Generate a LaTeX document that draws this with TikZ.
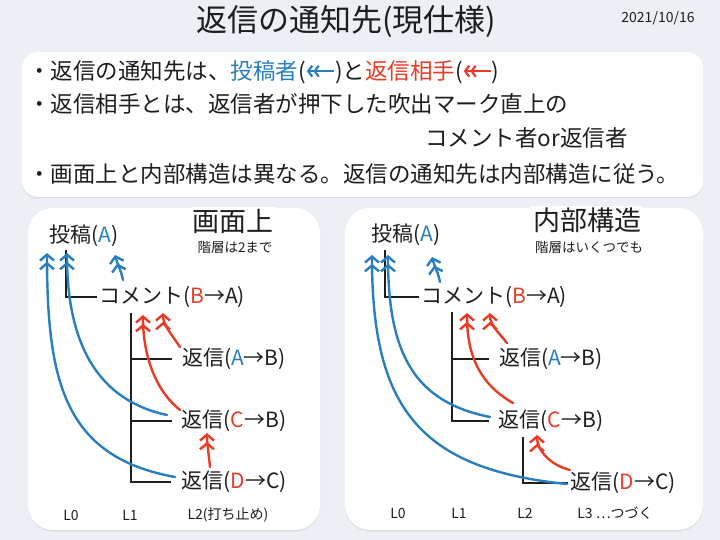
\documentclass[tikz,border=0pt]{standalone}
\usepackage{fontspec}
\setmainfont{Noto Sans CJK JP}
\usepackage{xcolor}
\usetikzlibrary{arrows.meta,shadows}
\definecolor{bg}{RGB}{236,239,244}
\definecolor{cblue}{RGB}{40,126,190}
\definecolor{cred}{RGB}{232,60,38}
\definecolor{ink}{RGB}{30,30,30}
\tikzstyle{panel} = [draw=none, fill=white, rounded corners=25pt, drop shadow={shadow xshift=0pt, shadow yshift=-1.5pt, opacity=0.15}]
\tikzstyle{bullet} = [anchor=west, inner sep=0pt, text=ink, font=\fontsize{22.5}{26}\selectfont]
\tikzstyle{entry} = [inner sep=0pt, text=ink, font=\fontsize{21}{24}\selectfont]
\tikzstyle{lvtext} = [inner sep=0pt, text=ink, font=\fontsize{14}{16}\selectfont]
\tikzstyle{heading} = [fill=white, inner sep=2pt, text=ink, font=\fontsize{27}{30}\selectfont]
\tikzstyle{note} = [inner sep=0pt, text=ink, font=\fontsize{13.5}{15}\selectfont]
\tikzstyle{treeline} = [draw=ink, line width=1.4pt]
\tikzstyle{hand} = [line width=2.4pt, line cap=round, -{Straight Barb[length=6pt,width=14pt] Straight Barb[length=6pt,width=14pt]}]
\tikzstyle{barrow} = [hand, draw=cblue]
\tikzstyle{rarrow} = [hand, draw=cred]
\newcommand\minarrow[1]{\tikz[baseline=-0.36em]\draw[#1, line width=2.2pt, -{Straight Barb[length=4pt,width=11pt] Straight Barb[length=4pt,width=11pt]}] (1.25em,0pt) -- (0.05em,0pt);}
\newcommand\bl[1]{\textcolor{cblue}{#1}}
\newcommand\rd[1]{\textcolor{cred}{#1}}

\begin{document}
\begin{tikzpicture}[x=1pt,y=-1pt]
\useasboundingbox (0,0) rectangle (720,540);
\fill[bg] (0,0) rectangle (720,540);

% title and date
\node (title) at (346,22) [inner sep=0pt, text=ink, font=\fontsize{31}{34}\selectfont] {返信の通知先(現仕様)};
\node (date) at (658,18) [inner sep=0pt, text=ink, font=\fontsize{14}{16}\selectfont] {2021/10/16};

% summary box
\draw[panel, rounded corners=16pt] (22,52) rectangle (703,197);
\node (line1) [bullet] at (28,72) {・返信の通知先は、\bl{投稿者}(\minarrow{cblue})と\rd{返信相手}(\minarrow{cred})};
\node (line2) [bullet] at (28,104) {・返信相手とは、返信者が押下した吹出マーク直上の};
\node (line3) [bullet] at (425,138) {コメント者or返信者};
\node (line4) [bullet] at (28,174) {・画面上と内部構造は異なる。返信の通知先は内部構造に従う。};

% panels
\draw[panel] (28,208) rectangle (320,530);
\draw[panel] (345,208) rectangle (703,530);

% left: screen view
\node (screen) [heading] at (233,221) {画面上};
\node (screenNote) [note] at (235,247) {階層は2まで};
\node (post1) [entry] at (84,236) {投稿(\bl{A})};
\node (cmt1) [entry] at (172,297) {コメント(\rd{B}→A)};
\node (repA1) [entry] at (234,359) {返信(\bl{A}→B)};
\node (repC1) [entry] at (234,421) {返信(\rd{C}→B)};
\node (repD1) [entry] at (234,482) {返信(\rd{D}→C)};
\node (lv0a) [lvtext] at (71,515) {L0};
\node (lv1a) [lvtext] at (130,515) {L1};
\node (lv2a) [lvtext] at (228,515) {L2(打ち止め)};

\draw[treeline] ([shift={(-18,14)}]post1.center) |- ([xshift=-2pt]cmt1.west);
\coordinate (spine1) at ([shift={(-41,16)}]cmt1.center);
\draw[treeline] (spine1) |- ([xshift=-10pt]repD1.west);
\draw[treeline] (spine1 |- repA1.west) -- ([xshift=-10pt]repA1.west);
\draw[treeline] (spine1 |- repC1.west) -- ([xshift=-10pt]repC1.west);

\draw[barrow] ([shift={(-59,-5)}]repD1.center) .. controls +(-110,-20) and +(0,130) .. ([shift={(-37,17)}]post1.center);
\draw[barrow] ([shift={(-67,-6)}]repC1.center) .. controls +(-70,-15) and +(0,90) .. ([shift={(-17,17)}]post1.center);
\draw[barrow] ([shift={(-49,-17)}]cmt1.center) .. controls +(-2,-10) and +(2,8) .. ([shift={(31,19)}]post1.center);
\draw[rarrow] ([shift={(-54,-12)}]repA1.center) .. controls +(-8,-12) and +(0,12) .. ([shift={(-9,16)}]cmt1.center);
\draw[rarrow] ([shift={(-54,-11)}]repC1.center) .. controls +(-25,-20) and +(0,40) .. ([shift={(-29,18)}]cmt1.center);
\draw[rarrow] ([shift={(-24,-15)}]repD1.center) .. controls +(-1,-10) and +(0,10) .. ([shift={(-27,12)}]repC1.center);

% right: internal structure
\node (inner) [heading] at (587,220) {内部構造};
\node (innerNote) [note] at (589,247) {階層はいくつでも};
\node (post2) [entry] at (406,235) {投稿(\bl{A})};
\node (cmt2) [entry] at (494,297) {コメント(\rd{B}→A)};
\node (repA2) [entry] at (551,359) {返信(\bl{A}→B)};
\node (repC2) [entry] at (551,421) {返信(\rd{C}→B)};
\node (repD2) [entry] at (623,483) {返信(\rd{D}→C)};
\node (lv0b) [lvtext] at (398,513) {L0};
\node (lv1b) [lvtext] at (459,513) {L1};
\node (lv2b) [lvtext] at (525,513) {L2};
\node (lv3b) [lvtext] at (615,513) {L3 …つづく};

\draw[treeline] ([shift={(-21,15)}]post2.center) |- ([xshift=-2pt]cmt2.west);
\coordinate (spine2) at ([shift={(-42,15)}]cmt2.center);
\draw[treeline] (spine2) |- ([xshift=-10pt]repC2.west);
\draw[treeline] (spine2 |- repA2.west) -- ([xshift=-10pt]repA2.west);
\coordinate (spine3) at ([shift={(-28,16)}]repC2.center);
\draw[treeline] (spine3) |- ([xshift=-2pt]repD2.west);

\draw[barrow] ([shift={(-56,1)}]repD2.center) .. controls +(-150,-15) and +(0,150) .. ([shift={(-34,20)}]post2.center);
\draw[barrow] ([shift={(-61,-4)}]repC2.center) .. controls +(-75,-15) and +(0,100) .. ([shift={(-18,20)}]post2.center);
\draw[barrow] ([shift={(-54,-15)}]cmt2.center) .. controls +(-2,-10) and +(2,8) .. ([shift={(26,22)}]post2.center);
\draw[rarrow] ([shift={(-44,-16)}]repA2.center) .. controls +(-8,-10) and +(0,12) .. ([shift={(-4,16)}]cmt2.center);
\draw[rarrow] ([shift={(-38,-18)}]repC2.center) .. controls +(-35,-20) and +(0,40) .. ([shift={(-27,16)}]cmt2.center);
\draw[rarrow] ([shift={(-53,-13)}]repD2.center) .. controls +(-20,-5) and +(0,15) .. ([shift={(-14,14)}]repC2.center);
\end{tikzpicture}
\end{document}
